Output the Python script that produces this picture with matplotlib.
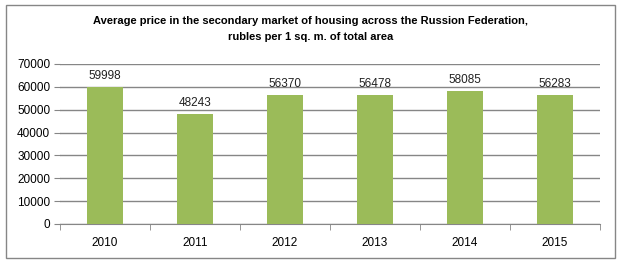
import matplotlib.pyplot as plt
from matplotlib.patches import Rectangle

years = ['2010', '2011', '2012', '2013', '2014', '2015']
prices = [59998, 48243, 56370, 56478, 58085, 56283]
yticks = [0, 10000, 20000, 30000, 40000, 50000, 60000, 70000]

plt.rcParams['font.family'] = ['Liberation Sans', 'DejaVu Sans']

fig = plt.figure(figsize=(6.21, 2.64), dpi=100)
# outer chart border
fig.patches.append(Rectangle((6 / 621, 1 - 258 / 264), 609 / 621, 253 / 264,
                             transform=fig.transFigure, fill=False,
                             edgecolor='#868686', linewidth=1))

ax = fig.add_axes([60 / 621, 1 - 224 / 264, 540 / 621, 160 / 264])
x = range(len(years))
ax.bar(x, prices, width=0.4, color='#9bbb59', zorder=3)
for i, v in zip(x, prices):
    ax.text(i, v + 2200, str(v), ha='center', va='bottom', fontsize=8.5, color='#222222')

ax.set_xlim(-0.5, len(years) - 0.5)
ax.set_ylim(0, 70000)
ax.set_yticks(yticks)
ax.set_yticklabels([str(t) for t in yticks], fontsize=8.5)
ax.yaxis.grid(True, color='#868686', linewidth=1, zorder=0)
ax.tick_params(axis='y', length=4, color='#868686', pad=3)

ax.set_xticks(list(x))
ax.set_xticklabels(years, fontsize=8.5)
ax.tick_params(axis='x', length=0, pad=9)
# category boundary ticks
ax.set_xticks([i - 0.5 for i in range(len(years) + 1)], minor=True)
ax.tick_params(axis='x', which='minor', length=4, color='#868686', direction='out')

for s in ['top', 'right', 'left']:
    ax.spines[s].set_visible(False)
ax.spines['bottom'].set_color('#868686')

fig.text(0.5, 1 - 21 / 264,
         'Average price in the secondary market of housing across the Russion Federation,',
         ha='center', va='center', fontsize=8, fontweight='bold')
fig.text(0.5, 1 - 37 / 264, 'rubles per 1 sq. m. of total area',
         ha='center', va='center', fontsize=8, fontweight='bold')

fig.savefig('out.png', dpi=100)
